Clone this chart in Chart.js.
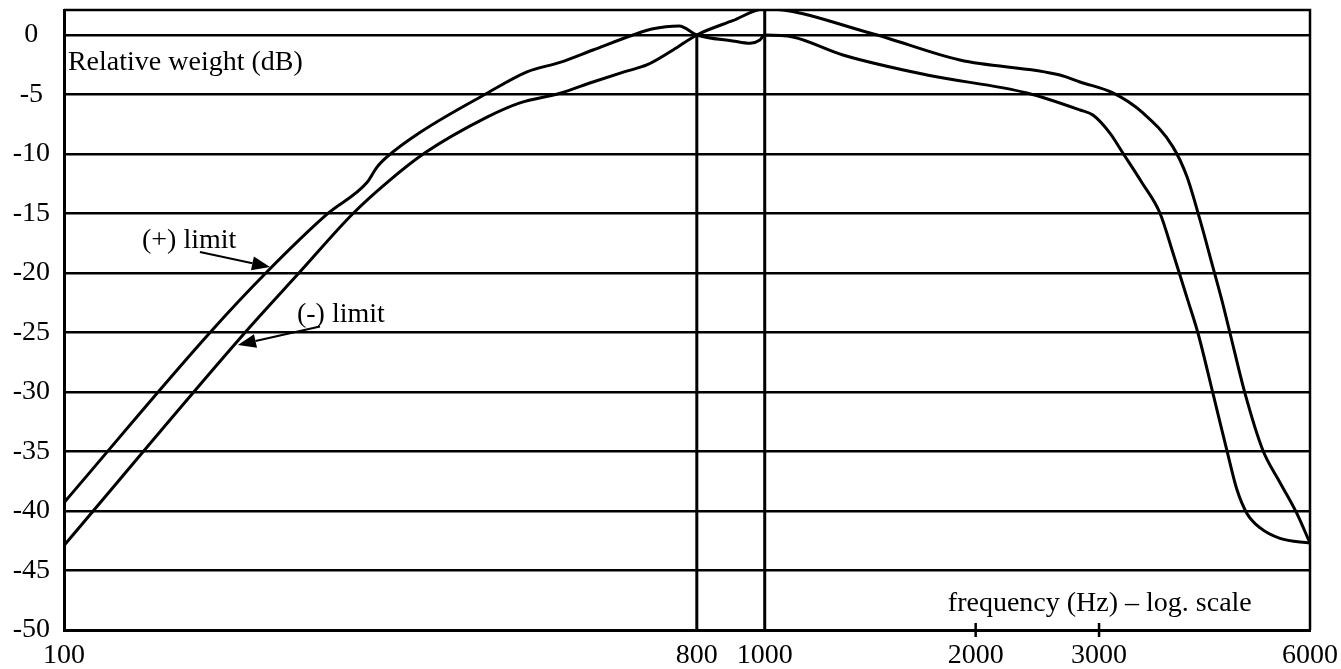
<!DOCTYPE html>
<html>
<head>
<meta charset="utf-8">
<script src="https://cdn.jsdelivr.net/npm/chart.js@4"></script>
<style>
  html, body { margin: 0; padding: 0; background: #fff; }
  #wrap { width: 1341px; height: 669px; }
</style>
</head>
<body>
<div id="wrap"><canvas id="weightChart"></canvas></div>
<script>
// tick labels
const xTicks = [100, 800, 1000, 2000, 3000, 6000];
const xMarks = [2000, 3000];
const yTicks = [-50, -45, -40, -35, -30, -25, -20, -15, -10, -5, 0];

// curve starting on top at the left ((+) limit side)
const freqA = [100, 161.6, 194.9, 238, 270.6, 279.7, 289, 322, 401.5, 457.9, 510.3, 568.6, 648.6, 690, 755, 800,
    900, 953, 983, 1000, 1097, 1293, 1704, 2367, 2818, 2940, 3109, 3244, 3453, 3664, 3824, 4016, 4150, 4361,
    4566, 4719, 4877, 5089, 5436, 6000];
const dbA = [-39.3, -25.0, -19.9, -15.0, -12.4, -11.1, -10.25, -8.2, -4.9, -3.1, -2.3, -1.26, 0, 0.5, 0.76, 0,
    -0.5, -0.7, -0.45, 0, -0.17, -1.68, -3.36, -4.87, -6.3, -6.72, -8.24, -9.92, -12.4, -14.96, -18.3, -22.3, -25.0, -30.1,
    -34.9, -38.2, -40.2, -41.4, -42.3, -42.7];

// curve starting below at the left ((-) limit side)
const freqB = [100, 181.3, 217.2, 258.5, 289, 327.5, 401.5, 447.4, 510.3, 568.6, 630, 680, 740, 800, 900, 1000,
    1413, 1899, 2638, 2818, 3140, 3465, 3824, 4004, 4178, 4361, 4492, 4611, 4845, 5139, 5436, 5746, 6000];
const dbB = [-42.9, -25.0, -19.9, -15.0, -12.4, -9.9, -6.9, -5.7, -4.9, -3.95, -3.1, -2.5, -1.26, 0, 1.2, 2.2,
    0.17, -2.1, -3.36, -3.95, -4.87, -6.55, -9.4, -11.9, -15.5, -19.5, -22.3, -25.0, -30.1, -34.9, -37.6, -40.2, -42.7];

// vertical lines at 800 Hz and 1000 Hz
const vertFreq = [800, 1000];
const vertTop = [0, 2.2];
const yMin = -50;
const yMax = 2.1;

// annotations (data units)
const noteText = ["Relative weight (dB)", "frequency (Hz) \u2013 log. scale", "(+) limit", "(-) limit"];
const noteFreq = [101.3, 1825, 129.2, 215];
const noteDb = [-2.94, -48.4, -17.9, -24.1];
const arrowFrom = [[156.3, -18.24], [231.9, -24.5]];
const arrowTo = [[196.8, -19.5], [177.1, -26.05]];

const FONT = "'Liberation Serif', 'Times New Roman', serif";
Chart.defaults.font.family = FONT;
Chart.defaults.color = "#000";

function xy(fs, ys) {
    return fs.map((f, i) => ({ x: f, y: ys[i] }));
}

const curveStyle = {
    borderColor: "#000",
    borderWidth: 3,
    pointRadius: 0,
    fill: false,
    cubicInterpolationMode: "monotone"
};

const datasets = [
    Object.assign({ label: "(+) limit", data: xy(freqA, dbA) }, curveStyle),
    Object.assign({ label: "(-) limit", data: xy(freqB, dbB) }, curveStyle)
];
vertFreq.forEach((f, i) => {
    datasets.push({
        label: "v" + f,
        data: [{ x: f, y: vertTop[i] }, { x: f, y: yMin }],
        borderColor: "#000",
        borderWidth: 3,
        pointRadius: 0,
        tension: 0
    });
});

const extras = {
    id: "extras",
    afterDraw(chart) {
        const ctx = chart.ctx;
        const a = chart.chartArea;
        const xs = chart.scales.x, ys = chart.scales.y;
        ctx.save();
        ctx.strokeStyle = "#000";
        // top and right frame
        ctx.lineWidth = 2.5;
        ctx.beginPath();
        ctx.moveTo(a.left, a.top);
        ctx.lineTo(a.right, a.top);
        ctx.lineTo(a.right, a.bottom);
        ctx.stroke();
        // small ticks across the bottom axis
        xMarks.forEach(f => {
            const px = xs.getPixelForValue(f);
            ctx.beginPath();
            ctx.moveTo(px, a.bottom - 7);
            ctx.lineTo(px, a.bottom + 7);
            ctx.stroke();
        });
        // text notes
        ctx.fillStyle = "#000";
        ctx.font = "28px " + FONT;
        ctx.textAlign = "left";
        ctx.textBaseline = "alphabetic";
        noteText.forEach((t, i) => {
            ctx.fillText(t, xs.getPixelForValue(noteFreq[i]), ys.getPixelForValue(noteDb[i]));
        });
        // arrows
        ctx.lineWidth = 2;
        arrowFrom.forEach((p, i) => {
            const x1 = xs.getPixelForValue(p[0]), y1 = ys.getPixelForValue(p[1]);
            const x2 = xs.getPixelForValue(arrowTo[i][0]), y2 = ys.getPixelForValue(arrowTo[i][1]);
            const ang = Math.atan2(y2 - y1, x2 - x1);
            const len = 18, half = 7;
            const bx = x2 - len * Math.cos(ang), by = y2 - len * Math.sin(ang);
            ctx.beginPath();
            ctx.moveTo(x1, y1);
            ctx.lineTo(bx, by);
            ctx.stroke();
            ctx.beginPath();
            ctx.moveTo(x2, y2);
            ctx.lineTo(bx + half * Math.sin(ang), by - half * Math.cos(ang));
            ctx.lineTo(bx - half * Math.sin(ang), by + half * Math.cos(ang));
            ctx.closePath();
            ctx.fill();
        });
        ctx.restore();
    }
};

new Chart(document.getElementById("weightChart"), {
    type: "line",
    data: { datasets },
    options: {
        responsive: true,
        maintainAspectRatio: false,
        animation: false,
        layout: { padding: { top: 10, right: 31, bottom: 0, left: 0 } },
        plugins: {
            legend: { display: false },
            tooltip: { enabled: false }
        },
        scales: {
            x: {
                type: "logarithmic",
                min: 100,
                max: 6000,
                afterBuildTicks: s => { s.ticks = xTicks.map(v => ({ value: v })); },
                afterFit: s => { s.height = 39; },
                grid: { display: false },
                border: { display: true, color: "#000", width: 3 },
                ticks: {
                    autoSkip: false,
                    maxRotation: 0,
                    padding: 1,
                    font: { size: 28 },
                    callback: v => String(v)
                }
            },
            y: {
                type: "linear",
                min: yMin,
                max: yMax,
                afterBuildTicks: s => { s.ticks = yTicks.map(v => ({ value: v })); },
                afterFit: s => { s.width = 64; s.paddingTop = 0; s.paddingBottom = 0; },
                grid: { color: "#000", lineWidth: 2.5, drawTicks: false },
                border: { display: true, color: "#000", width: 3 },
                ticks: {
                    padding: 14,
                    crossAlign: "center",
                    font: { size: 28 },
                    callback: v => String(v)
                }
            }
        }
    },
    plugins: [extras]
});
</script>
</body>
</html>
